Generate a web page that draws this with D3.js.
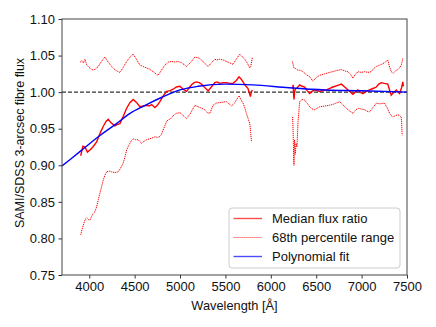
<!DOCTYPE html>
<html>
<head>
<meta charset="utf-8">
<script src="https://cdn.jsdelivr.net/npm/d3@7"></script>
<style>
  body { margin: 0; background: #fff; }
  svg { font-family: "Liberation Sans", Arial, Helvetica, sans-serif; }
</style>
</head>
<body>
<div id="chart"></div>
<script>
/* Wavelength [A] and flux ratio pairs. null marks the chip gap. */
const medianRatio = [
  [3906, 0.913], [3930, 0.926], [3953, 0.925], [3980, 0.918], [4008, 0.921], [4040, 0.925],
  [4082, 0.932], [4120, 0.944], [4154, 0.953], [4185, 0.960], [4209, 0.963], [4240, 0.958],
  [4283, 0.954], [4310, 0.956], [4338, 0.957], [4375, 0.967], [4412, 0.978], [4450, 0.986],
  [4484, 0.990], [4520, 0.986], [4558, 0.980], [4595, 0.981], [4632, 0.982], [4660, 0.981],
  [4687, 0.983], [4723, 0.979], [4750, 0.982], [4778, 0.987], [4815, 0.995], [4852, 1.001],
  [4890, 1.002], [4924, 1.004], [4960, 1.007], [4998, 1.008], [5035, 1.004], [5072, 1.001],
  [5100, 1.006], [5127, 1.010], [5155, 1.013], [5182, 1.014], [5210, 1.013], [5237, 1.011],
  [5275, 1.006], [5310, 1.002], [5345, 1.007], [5383, 1.013], [5410, 1.014], [5438, 1.012],
  [5475, 1.013], [5511, 1.013], [5548, 1.012], [5584, 1.012], [5620, 1.016], [5650, 1.021],
  [5672, 1.018], [5694, 1.014], [5720, 1.009], [5749, 1.005], [5765, 0.998], [5775, 0.994],
  [5785, 1.000], [5797, 1.003],
  [6000, null],
  [6240, 1.005], [6246, 1.010], [6252, 0.995], [6256, 0.990], [6262, 1.000], [6270, 1.004],
  [6290, 1.006], [6318, 1.010], [6345, 1.008], [6373, 1.007], [6400, 1.002], [6428, 0.998],
  [6455, 1.001], [6483, 1.003], [6510, 1.002], [6538, 1.001], [6575, 1.002], [6612, 1.003],
  [6650, 1.005], [6684, 1.007], [6730, 1.009], [6776, 1.011], [6805, 1.008], [6832, 1.005],
  [6870, 1.001], [6904, 0.997], [6930, 1.000], [6959, 1.003], [6985, 1.000], [7014, 0.998],
  [7050, 1.001], [7088, 1.003], [7125, 1.005], [7162, 1.007], [7190, 1.011], [7217, 1.013],
  [7250, 1.012], [7288, 1.011], [7308, 1.003], [7326, 0.996], [7350, 0.999], [7382, 1.003],
  [7400, 1.000], [7418, 0.998], [7440, 1.006], [7454, 1.014], [7460, 1.008]
];

const upperRange = [
  [3900, 1.041], [3920, 1.043], [3935, 1.040], [3953, 1.045], [3970, 1.038], [3989, 1.035],
  [4015, 1.032], [4044, 1.030], [4070, 1.032], [4099, 1.035], [4135, 1.042], [4173, 1.048],
  [4210, 1.041], [4247, 1.035], [4290, 1.030], [4338, 1.027], [4375, 1.034], [4412, 1.042],
  [4450, 1.048], [4484, 1.052], [4520, 1.045], [4558, 1.037], [4595, 1.035], [4632, 1.033],
  [4670, 1.031], [4704, 1.028], [4735, 1.025], [4759, 1.023], [4795, 1.030], [4833, 1.037],
  [4870, 1.041], [4906, 1.042], [4945, 1.041], [4979, 1.042], [5020, 1.040], [5072, 1.035],
  [5120, 1.041], [5163, 1.048], [5200, 1.047], [5237, 1.044], [5275, 1.039], [5310, 1.035],
  [5345, 1.040], [5383, 1.045], [5401, 1.044], [5438, 1.045], [5474, 1.044], [5530, 1.041],
  [5584, 1.038], [5620, 1.045], [5658, 1.052], [5690, 1.048], [5713, 1.045], [5740, 1.040],
  [5768, 1.033], [5780, 1.035], [5797, 1.048],
  [6000, null],
  [6237, 1.042], [6245, 1.038], [6255, 1.033], [6275, 1.032], [6299, 1.030], [6325, 1.030],
  [6354, 1.028], [6390, 1.024], [6428, 1.021], [6446, 1.018], [6464, 1.015], [6500, 1.020],
  [6538, 1.023], [6590, 1.025], [6648, 1.027], [6710, 1.029], [6776, 1.031], [6815, 1.029],
  [6849, 1.028], [6880, 1.024], [6904, 1.019], [6930, 1.024], [6959, 1.028], [7000, 1.027],
  [7033, 1.028], [7070, 1.027], [7106, 1.028], [7130, 1.032], [7162, 1.035], [7200, 1.037],
  [7234, 1.039], [7260, 1.041], [7288, 1.044], [7305, 1.036], [7326, 1.028], [7350, 1.026],
  [7382, 1.030], [7400, 1.031], [7418, 1.033], [7440, 1.038], [7454, 1.046]
];

const lowerRange = [
  [3906, 0.805], [3920, 0.812], [3935, 0.818], [3955, 0.826], [3972, 0.828], [3990, 0.826],
  [4008, 0.825], [4025, 0.830], [4044, 0.834], [4060, 0.836], [4081, 0.843], [4100, 0.853],
  [4118, 0.862], [4135, 0.870], [4154, 0.880], [4175, 0.887], [4191, 0.891], [4220, 0.892],
  [4247, 0.891], [4280, 0.890], [4319, 0.891], [4345, 0.896], [4374, 0.903], [4395, 0.912],
  [4412, 0.921], [4430, 0.926], [4448, 0.930], [4466, 0.934], [4484, 0.936], [4510, 0.935],
  [4539, 0.935], [4560, 0.932], [4577, 0.930], [4605, 0.933], [4632, 0.935], [4660, 0.936],
  [4687, 0.937], [4723, 0.939], [4759, 0.938], [4790, 0.941], [4820, 0.950], [4852, 0.960],
  [4869, 0.962], [4900, 0.964], [4924, 0.968], [4960, 0.971], [4998, 0.972], [5035, 0.968],
  [5072, 0.964], [5110, 0.970], [5140, 0.977], [5163, 0.982], [5200, 0.980], [5237, 0.978],
  [5270, 0.976], [5300, 0.972], [5328, 0.971], [5364, 0.982], [5401, 0.985], [5456, 0.986],
  [5511, 0.987], [5540, 0.984], [5566, 0.981], [5600, 0.985], [5639, 0.993], [5650, 0.995],
  [5670, 0.990], [5694, 0.985], [5715, 0.978], [5731, 0.971], [5750, 0.964], [5768, 0.957],
  [5778, 0.945], [5787, 0.932],
  [6000, null],
  [6240, 0.966], [6245, 0.950], [6250, 0.920], [6255, 0.900], [6262, 0.935], [6270, 0.915],
  [6278, 0.930], [6288, 0.925], [6300, 0.960], [6318, 0.987], [6345, 0.990], [6373, 0.989],
  [6400, 0.985], [6428, 0.980], [6455, 0.977], [6483, 0.976], [6510, 0.978], [6538, 0.980],
  [6590, 0.981], [6648, 0.982], [6700, 0.984], [6758, 0.987], [6785, 0.984], [6813, 0.980],
  [6860, 0.975], [6904, 0.971], [6930, 0.975], [6959, 0.978], [6995, 0.977], [7033, 0.976],
  [7060, 0.974], [7088, 0.973], [7125, 0.979], [7162, 0.985], [7200, 0.984], [7251, 0.985],
  [7280, 0.979], [7308, 0.971], [7326, 0.968], [7345, 0.966], [7375, 0.968], [7400, 0.969],
  [7418, 0.968], [7436, 0.966], [7442, 0.955], [7447, 0.941]
];

const polyFit = [
  [3700, 0.899], [3900, 0.919], [4100, 0.939], [4300, 0.957], [4450, 0.971], [4600, 0.981],
  [4800, 0.993], [5000, 1.003], [5200, 1.008], [5500, 1.011], [5800, 1.010], [6200, 1.006],
  [6600, 1.003], [7000, 1.002], [7500, 1.000]
];

const xTicks = [4000, 4500, 5000, 5500, 6000, 6500, 7000, 7500];
const yTicks = [0.75, 0.80, 0.85, 0.90, 0.95, 1.00, 1.05, 1.10];
const legendLabels = ["Median flux ratio", "68th percentile range", "Polynomial fit"];

/* Global chart parameters. */
const chartParams = {
  width: 436,
  height: 327,
  left: 62,
  top: 19,
  right: 407,
  bottom: 275
};

const svg = d3.select("#chart")
  .append("svg")
  .attr("width", chartParams.width)
  .attr("height", chartParams.height);

const x = d3.scaleLinear()
  .domain([3700, 7500])
  .range([chartParams.left, chartParams.right]);
const y = d3.scaleLinear()
  .domain([0.75, 1.10])
  .range([chartParams.bottom, chartParams.top]);

svg.append("defs").append("clipPath")
  .attr("id", "plotClip")
  .append("rect")
  .attr("x", chartParams.left)
  .attr("y", chartParams.top)
  .attr("width", chartParams.right - chartParams.left)
  .attr("height", chartParams.bottom - chartParams.top);

const line = d3.line()
  .defined(d => d[1] !== null)
  .x(d => x(d[0]))
  .y(d => y(d[1]));

const plot = svg.append("g").attr("clip-path", "url(#plotClip)");

/* Reference line at unity. */
plot.append("line")
  .attr("x1", x(3700)).attr("x2", x(7500))
  .attr("y1", y(1)).attr("y2", y(1))
  .attr("stroke", "#333")
  .attr("stroke-width", 1.3)
  .attr("stroke-dasharray", "4,2");

/* Percentile range lines (dotted). */
[upperRange, lowerRange].forEach(series => {
  plot.append("path")
    .datum(series)
    .attr("d", line)
    .attr("fill", "none")
    .attr("stroke", "#ff0000")
    .attr("stroke-width", 1)
    .attr("stroke-dasharray", "1.2,0.8");
});

/* Median ratio. */
plot.append("path")
  .datum(medianRatio)
  .attr("d", line)
  .attr("fill", "none")
  .attr("stroke", "#ff0000")
  .attr("stroke-width", 1.4);

/* Polynomial fit. */
plot.append("path")
  .datum(polyFit)
  .attr("d", line.curve(d3.curveMonotoneX))
  .attr("fill", "none")
  .attr("stroke", "#0000ff")
  .attr("stroke-width", 1.4);
line.curve(d3.curveLinear);

buildAxes();
buildLegend();

// ---------------- Helper functions ---------------- //

/* Draw axes, frame and axis labels. */
function buildAxes() {
  const xAxis = svg.append("g")
    .attr("transform", "translate(0," + chartParams.bottom + ")")
    .call(d3.axisBottom(x).tickValues(xTicks).tickFormat(d3.format("d"))
      .tickSize(3.5).tickPadding(3.5));
  const yAxis = svg.append("g")
    .attr("transform", "translate(" + chartParams.left + ",0)")
    .call(d3.axisLeft(y).tickValues(yTicks).tickFormat(d3.format(".2f"))
      .tickSize(3.5).tickPadding(3.5));

  [xAxis, yAxis].forEach(a => {
    a.select(".domain").remove();
    a.selectAll("text").attr("font-size", 13).attr("fill", "#111")
      .attr("font-family", "'Liberation Sans', Arial, sans-serif");
    a.selectAll("line").attr("stroke", "#333");
  });

  svg.append("rect")
    .attr("x", chartParams.left)
    .attr("y", chartParams.top)
    .attr("width", chartParams.right - chartParams.left)
    .attr("height", chartParams.bottom - chartParams.top)
    .attr("fill", "none")
    .attr("stroke", "#444")
    .attr("stroke-width", 1);

  svg.append("text")
    .attr("x", (chartParams.left + chartParams.right) / 2)
    .attr("y", 309.5)
    .attr("text-anchor", "middle")
    .attr("font-size", 12.8)
    .attr("fill", "#111")
    .text("Wavelength [Å]");

  svg.append("text")
    .attr("transform", "translate(23.5,143) rotate(-90)")
    .attr("text-anchor", "middle")
    .attr("font-size", 12.5)
    .attr("fill", "#111")
    .text("SAMI/SDSS 3-arcsec fibre flux");
}

/* Legend box in the lower right corner. */
function buildLegend() {
  const legend = svg.append("g")
    .attr("transform", "translate(229,208)");

  legend.append("rect")
    .attr("width", 171)
    .attr("height", 60)
    .attr("rx", 3)
    .attr("fill", "#fff")
    .attr("fill-opacity", 0.8)
    .attr("stroke", "#ccc")
    .attr("stroke-width", 1);

  const styles = [
    { color: "#ff0000", width: 1.4, dash: null },
    { color: "#ff0000", width: 1, dash: "1.2,0.8" },
    { color: "#0000ff", width: 1.4, dash: null }
  ];

  legendLabels.forEach((label, i) => {
    const rowY = 10.5 + i * 19;
    legend.append("line")
      .attr("x1", 4.5).attr("x2", 33)
      .attr("y1", rowY).attr("y2", rowY)
      .attr("stroke", styles[i].color)
      .attr("stroke-opacity", 0.7)
      .attr("stroke-width", styles[i].width)
      .attr("stroke-dasharray", styles[i].dash);
    legend.append("text")
      .attr("x", 43)
      .attr("y", rowY + 4.5)
      .attr("font-size", 13)
      .attr("fill", "#111")
      .text(label);
  });
}
</script>
</body>
</html>
